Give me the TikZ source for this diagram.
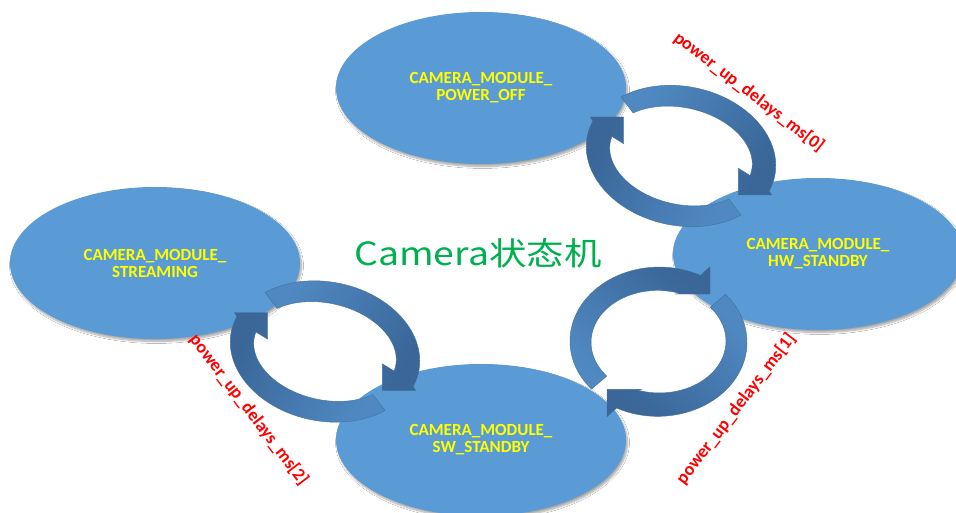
\documentclass[tikz,border=0pt]{standalone}
\usepackage{fontspec}
\setmainfont{Carlito}
\newfontfamily\cjkfont[FakeStretch=1.17]{Noto Sans CJK SC}
\usetikzlibrary{shapes.geometric,shadows.blur}
\definecolor{ellfill}{HTML}{5B9BD5}
\definecolor{arrlight}{HTML}{5089C2}
\definecolor{arrdark}{HTML}{3A6698}
\definecolor{arredge}{HTML}{41719C}
\definecolor{txtyellow}{HTML}{FFFF00}
\definecolor{titlegreen}{HTML}{00B050}
\definecolor{lblred}{HTML}{FF0000}
\tikzset{
  state/.style={ellipse, fill=ellfill, minimum width=290pt, minimum height=152pt,
    inner sep=0pt, text=txtyellow, align=center,
    font=\bfseries\fontsize{17}{17}\selectfont,
    blur shadow={shadow xshift=1.5pt, shadow yshift=-2.5pt, shadow blur steps=8, shadow opacity=35}},
  delaylabel/.style={text=lblred, font=\bfseries\fontsize{18}{18}\selectfont, inner sep=0pt},
  ringbody/.style={draw=arredge, line width=0.4pt, line join=round},
  titletext/.style={text=titlegreen, font=\cjkfont\fontsize{32}{32}\selectfont, inner sep=0pt}
}
\newcommand\setring[5]{\def\rcx{#1}\def\rcy{#2}\def\ra{#3}\def\rb{#4}\def\rth{#5}}
\newcommand\ringX[2]{\rcx+(\ra+(#2))*cos(#1)*cos(\rth)-(\rb+(#2))*sin(#1)*sin(\rth)}
\newcommand\ringY[2]{\rcy+(\ra+(#2))*cos(#1)*sin(\rth)+(\rb+(#2))*sin(#1)*cos(\rth)}
% #1 tail angle, #2 outer end angle, #3 inner end angle, #4 tail width, #5 head width,
% #6 head outer corner, #7 tip, #8 head inner corner, #9 shading angle
\newcommand\ringarrow[9]{%
  \shadedraw[ringbody, top color=arrlight, bottom color=arrdark, shading angle=#9]
    plot[variable=\s, domain=0:1, samples=50]
      ({\ringX{(#1)+((#2)-(#1))*\s}{((#4)+((#5)-(#4))*\s)/2}},
       {\ringY{(#1)+((#2)-(#1))*\s}{((#4)+((#5)-(#4))*\s)/2}})
    -- #6 -- #7 -- #8
    -- plot[variable=\s, domain=0:1, samples=50]
      ({\ringX{(#3)+((#1)-(#3))*\s}{-((#5)+((#4)-(#5))*\s)/2}},
       {\ringY{(#3)+((#1)-(#3))*\s}{-((#5)+((#4)-(#5))*\s)/2}})
    -- cycle;}
\begin{document}
\begin{tikzpicture}[x=1pt,y=-1pt]
\useasboundingbox (0,0) rectangle (956,513);
\clip (0,0) rectangle (956,513);
\fill[white] (0,0) rectangle (956,513);

% states
\node[state] (off) at (481,88) {CAMERA\_MODULE\_\\POWER\_OFF};
\node[state] (hw) at (818,254) {CAMERA\_MODULE\_\\HW\_STANDBY};
\node[state] (sw) at (481,440) {CAMERA\_MODULE\_\\SW\_STANDBY};
\node[state] (stream) at (155,263) {CAMERA\_MODULE\_\\STREAMING};

% top-right cycle (POWER_OFF <-> HW_STANDBY)
\setring{681}{156}{84}{59}{12}
\ringarrow{-139}{13}{5.8}{20}{24}{(771.7,195)}{(738.3,195)}{(738.3,168.3)}{59}
\ringarrow{41}{193}{185.8}{20}{24}{(590.3,117)}{(623.7,117)}{(623.7,143.7)}{239}

% bottom-left cycle (STREAMING <-> SW_STANDBY)
\setring{325}{351.5}{84}{59}{12}
\ringarrow{-139}{13}{5.8}{20}{24}{(415.7,390.5)}{(382.3,390.5)}{(382.3,363.8)}{59}
\ringarrow{41}{193}{185.8}{20}{24}{(234.3,312.5)}{(267.7,312.5)}{(267.7,339.2)}{239}

% bottom-right cycle (SW_STANDBY <-> HW_STANDBY)
\setring{658.5}{341.7}{78}{63}{0}
\ringarrow{139.5}{297.8}{289.3}{20}{24}{(710,266.7)}{(710,294)}{(675,294)}{137.6}
\ringarrow{-40.5}{117.8}{109.3}{20}{24}{(607,416.7)}{(607,389.4)}{(642,389.4)}{-42.4}

% title and labels
\node[titletext] (title) at (478,253) {Camera状态机};
\node[delaylabel, rotate=-37.5] (d0) at (749,92) {power\_up\_delays\_ms[0]};
\node[delaylabel, rotate=52.6] (d1) at (736,409) {power\_up\_delays\_ms[1]};
\node[delaylabel, rotate=-52.7] (d2) at (249,410) {power\_up\_delays\_ms[2]};
\end{tikzpicture}
\end{document}
